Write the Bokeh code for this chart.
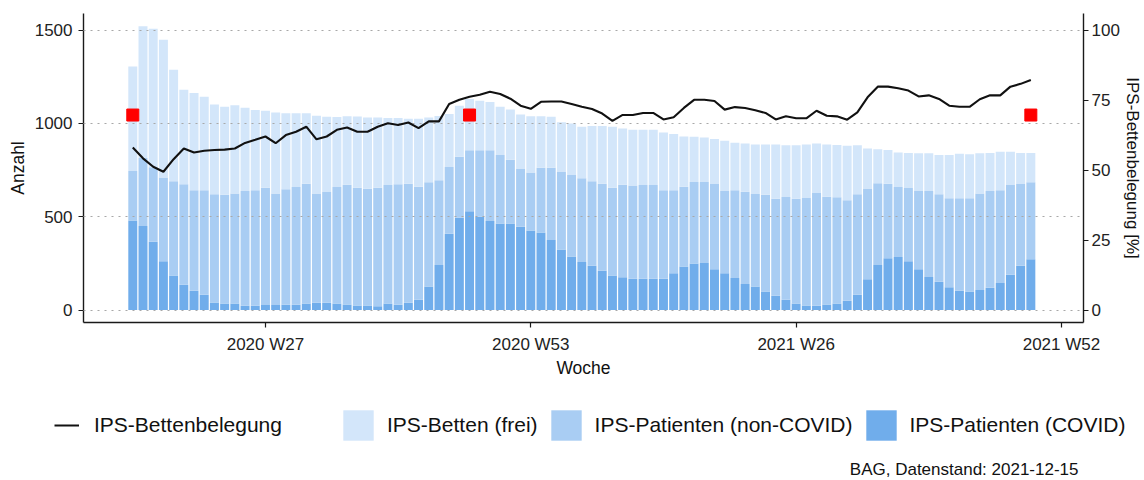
from bokeh.plotting import figure
from bokeh.layouts import column
from bokeh.models import (ColumnDataSource, LinearAxis, Range1d, FixedTicker,
                          Legend, LegendItem, Label)
from bokeh.embed import file_html
from bokeh.resources import INLINE

# ---------------- data ----------------
weeks = [f"2020-W{w:02d}" for w in range(14, 54)] + [f"2021-W{w:02d}" for w in range(1, 50)]

covid = [480, 450, 366, 262, 186, 136, 104, 82, 41, 36,
         36, 23, 23, 27, 27, 29, 29, 36, 39, 39,
         36, 30, 25, 25, 20, 36, 29, 39, 56, 127,
         242, 409, 495, 529, 500, 477, 464, 464, 446, 426,
         416, 375, 324, 287, 258, 238, 211, 186, 176, 168,
         168, 168, 168, 197, 233, 249, 253, 219, 197, 172,
         140, 127, 100, 77, 56, 36, 25, 23, 30, 36,
         50, 82, 165, 242, 278, 285, 262, 219, 177, 152,
         122, 104, 100, 108, 120, 145, 190, 238, 272]

noncovid = [265, 365, 399, 448, 504, 538, 538, 560, 579, 582,
            588, 615, 619, 629, 597, 618, 630, 641, 586, 594,
            623, 642, 631, 625, 636, 634, 645, 638, 605, 558,
            453, 358, 327, 328, 357, 380, 367, 341, 310, 311,
            347, 387, 416, 437, 448, 452, 466, 470, 496, 500,
            502, 502, 474, 445, 428, 437, 433, 457, 441, 470,
            494, 495, 518, 520, 550, 561, 575, 604, 577, 568,
            538, 538, 487, 437, 399, 374, 392, 419, 461, 468,
            477, 495, 499, 516, 518, 497, 480, 438, 413]

free = [560, 705, 742, 738, 597, 507, 521, 501, 482, 472,
        473, 446, 430, 412, 435, 408, 396, 377, 416, 403,
        375, 367, 381, 382, 376, 359, 355, 348, 364, 347,
        345, 283, 273, 274, 265, 258, 259, 270, 292, 302,
        276, 274, 267, 276, 276, 296, 309, 326, 301, 298,
        296, 296, 310, 301, 269, 242, 239, 240, 269, 254,
        258, 265, 269, 290, 277, 286, 287, 265, 280, 281,
        292, 263, 214, 183, 181, 185, 188, 202, 202, 211,
        232, 238, 236, 216, 204, 206, 178, 166, 157]

occupancy = [58.1, 54.2, 51.2, 49.4, 53.9, 57.7, 56.3, 56.9, 57.2, 57.3,
             57.7, 59.7, 60.8, 62.0, 59.6, 62.5, 63.7, 65.5, 61.0, 62.0,
             64.4, 65.2, 63.7, 63.7, 65.5, 66.7, 66.1, 67.0, 65.0, 67.4,
             67.4, 73.6, 75.1, 76.2, 76.9, 78.0, 77.2, 75.5, 73.0, 71.9,
             74.4, 74.5, 74.5, 73.6, 72.6, 71.8, 70.2, 67.6, 69.7, 69.7,
             70.4, 70.4, 68.1, 68.9, 72.2, 75.1, 75.1, 74.7, 71.6, 72.5,
             72.2, 71.4, 70.4, 68.1, 69.2, 68.5, 68.5, 71.2, 69.4, 69.2,
             68.0, 70.6, 76.0, 79.8, 79.8, 79.2, 78.4, 76.3, 76.7, 75.4,
             73.0, 72.6, 72.6, 75.3, 76.7, 76.7, 79.8, 80.8, 82.2]

marker_weeks = ["2020-W14", "2020-W47", "2021-W49"]
marker_values = [1045, 1045, 1045]

tick_weeks = ["2020-W27", "2020-W53", "2021-W26", "2021-W52"]
tick_labels = ["2020 W27", "2020 W53", "2021 W26", "2021 W52"]

y_ticks = [0, 500, 1000, 1500]
pct_ticks = [0, 25, 50, 75, 100]

series_labels = ["IPS-Patienten (COVID)", "IPS-Patienten (non-COVID)", "IPS-Betten (frei)"]
line_label = "IPS-Bettenbelegung"
caption = "BAG, Datenstand: 2021-12-15"

# ---------------- helpers ----------------
def week_pos(w):
    year, wk = w.split("-W")
    year, wk = int(year), int(wk)
    if year == 2020:
        return wk - 14
    return 40 + wk - 1

C_COVID = "#70adeb"
C_NC = "#a9cdf3"
C_FREE = "#d3e6fa"
C_LINE = "#111111"
FONT = "Liberation Sans"
W = 1144

x = [week_pos(w) for w in weeks]
src = ColumnDataSource(dict(x=x, covid=covid, noncovid=noncovid, free=free, occ=occupancy))

# ---------------- main chart ----------------
p = figure(width=W, height=385, output_backend="svg", toolbar_location=None,
           x_range=Range1d(-4.83, 93.16), y_range=Range1d(-66.4, 1588.9),
           min_border_left=83, min_border_right=61, min_border_top=13, min_border_bottom=63)
p.frame_align = False
p.outline_line_color = None
p.extra_y_ranges = {"pct": Range1d(-66.4 / 15, 1588.9 / 15)}

bars = p.vbar_stack(["covid", "noncovid", "free"], x="x", width=0.88,
                    color=[C_COVID, C_NC, C_FREE], line_color=None, source=src)

p.line("x", "occ", source=src, y_range_name="pct", line_color=C_LINE,
       line_width=2.1, level="overlay")

mx = [week_pos(w) for w in marker_weeks]
p.scatter(mx, marker_values, marker="square", size=12, color="#ff0000", level="overlay")

ax_col = "#1a1a1a"
p.xaxis.ticker = FixedTicker(ticks=[week_pos(w) for w in tick_weeks])
p.xaxis.major_label_overrides = {week_pos(w): l for w, l in zip(tick_weeks, tick_labels)}
p.xaxis.axis_label = "Woche"
p.yaxis.ticker = FixedTicker(ticks=y_ticks)
p.yaxis.axis_label = "Anzahl"

right = LinearAxis(y_range_name="pct", ticker=FixedTicker(ticks=pct_ticks),
                   axis_label="IPS-Bettenbelegung [%]")
p.add_layout(right, "right")

for ax in [p.xaxis[0], p.yaxis[0], right]:
    ax.axis_line_color = ax_col
    ax.axis_line_width = 1.4
    ax.major_tick_line_color = ax_col
    ax.major_tick_line_width = 1.2
    ax.major_tick_out = 5
    ax.major_tick_in = 0
    ax.minor_tick_line_color = None
    ax.major_label_text_font = FONT
    ax.major_label_text_font_size = "17px"
    ax.major_label_text_color = "#222222"
    ax.axis_label_text_font = FONT
    ax.axis_label_text_font_size = "17.5px"
    ax.axis_label_text_font_style = "normal"
    ax.axis_label_text_color = "#111111"

p.xaxis.major_label_standoff = 7
p.xaxis.axis_label_standoff = 1
p.yaxis.major_label_standoff = 6
p.yaxis.axis_label_standoff = 4
right.major_label_standoff = 3
right.axis_label_standoff = 0
right.axis_label_text_font_size = "17px"

p.xgrid.visible = False
p.ygrid.ticker = FixedTicker(ticks=y_ticks)
p.ygrid.grid_line_color = "#a8a8a8"
p.ygrid.grid_line_dash = "2 5"
p.ygrid.grid_line_width = 1.2
p.ygrid.level = "annotation"

# ---------------- legend + caption strip ----------------
H2 = 95
q = figure(width=W, height=H2, output_backend="svg", toolbar_location=None,
           x_range=Range1d(0, W), y_range=Range1d(0, H2),
           x_axis_location=None, y_axis_location=None,
           min_border_left=0, min_border_right=0, min_border_top=0, min_border_bottom=0)
q.frame_align = False
q.outline_line_color = None
q.xgrid.visible = False
q.ygrid.visible = False

# legend keys (one off-screen point each, so that the legend can draw its swatches)
key_src = ColumnDataSource(dict(x=[-100, -90], y=[-100, -100]))
k_line = q.line("x", "y", source=key_src, line_color=C_LINE, line_width=2)
k_free = q.vbar(x="x", top="y", width=1, source=key_src, color=C_FREE, line_color=None)
k_nc = q.vbar(x="x", top="y", width=1, source=key_src, color=C_NC, line_color=None)
k_cov = q.vbar(x="x", top="y", width=1, source=key_src, color=C_COVID, line_color=None)

leg_common = dict(orientation="horizontal", padding=0, margin=0, border_line_color=None,
                  background_fill_alpha=0, label_text_font=FONT, label_text_font_size="21px",
                  label_text_color="#111111", glyph_height=38)
leg1 = Legend(items=[LegendItem(label=line_label, renderers=[k_line])],
              location=(54, 36.5), glyph_width=25, label_standoff=15, **leg_common)
leg2 = Legend(items=[LegendItem(label=series_labels[2], renderers=[k_free]),
                     LegendItem(label=series_labels[1], renderers=[k_nc]),
                     LegendItem(label=series_labels[0], renderers=[k_cov])],
              location=(339, 36.5), glyph_width=38, label_standoff=10, spacing=9,
              **leg_common)
q.add_layout(leg1)
q.add_layout(leg2)

q.add_layout(Label(x=1078, y=11, x_units="screen", y_units="screen",
                   text=caption, text_align="right", text_baseline="middle",
                   text_font=FONT, text_font_size="17px", text_color="#111111"))

layout = column(p, q, spacing=0)
open("out.html", "w").write(file_html(layout, INLINE))
